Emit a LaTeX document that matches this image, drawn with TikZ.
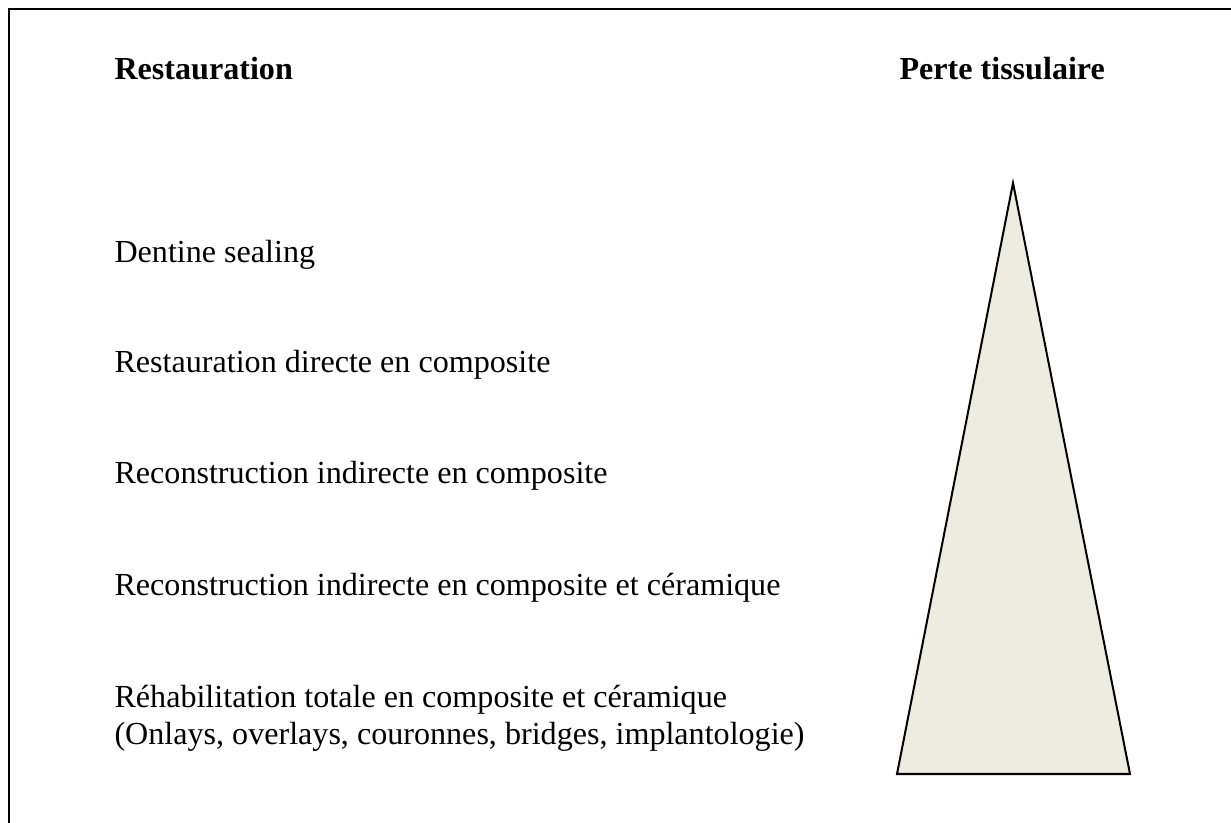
\documentclass[tikz,border=0pt]{standalone}
\usepackage{fontspec}
\setmainfont{Liberation Serif}
\usepackage{xcolor}
\usetikzlibrary{positioning}

\definecolor{tissue}{HTML}{EEECE1}

\begin{document}
\begin{tikzpicture}[
        x=0.3738pt, y=-0.3738pt,
        font=\fontsize{12}{13.8}\selectfont,
        every node/.style={inner sep=0pt, anchor=base west},
        heading/.style={font=\fontsize{12}{13.8}\selectfont\bfseries},
        item/.style={align=left},
        frame/.style={line width=0.75pt},
        cone/.style={draw, fill=tissue, line width=0.75pt, line join=miter}
    ]
    \useasboundingbox (0,0) rectangle (1231,823);

    % Frame (open at right and bottom)
    \draw[frame] (9,823) -- (9,9) -- (1231,9);

    % Headings
    \node[heading] (restau) at (114,80) {Restauration};
    \node[heading] (perte) at (899,80) {Perte tissulaire};

    % Items
    \node[item] (dentine) at (114,263) {Dentine sealing};
    \node[item] (directe) at (114,373) {Restauration directe en composite};
    \node[item] (indirecte) at (114,484) {Reconstruction indirecte en composite};
    \node[item] (ceramique) at (114,595) {Reconstruction indirecte en composite et céramique};
    % base anchor sits on the last line here
    \node[item] (rehab) at (114,744) {Réhabilitation totale en composite et céramique\\
        (Onlays, overlays, couronnes, bridges, implantologie)};

    % Triangle
    \coordinate (apex) at (1013,183);
    \coordinate (baseL) at (897,774);
    \coordinate (baseR) at (1130,774);
    \draw[cone] (apex) -- (baseR) -- (baseL) -- cycle;

\end{tikzpicture}
\end{document}
